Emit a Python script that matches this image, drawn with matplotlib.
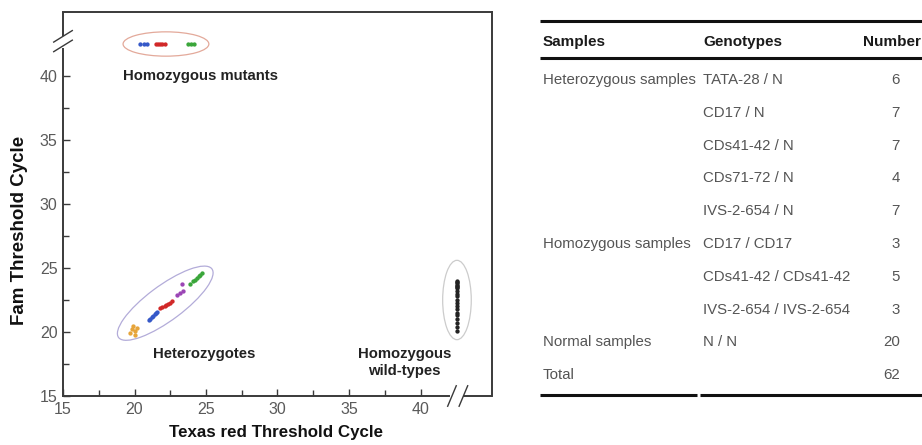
import matplotlib
matplotlib.use("Agg")
import matplotlib.pyplot as plt
import matplotlib.font_manager as fm
from matplotlib.patches import Ellipse
from matplotlib.lines import Line2D

# --- data ---
# homozygous mutants (Fam never crosses threshold -> drawn above the axis break)
mut_blue_x = [20.4, 20.65, 20.9]
mut_red_x = [21.5, 21.65, 21.8, 21.95, 22.1]
mut_green_x = [23.75, 23.95, 24.15]
mut_y = 42.5

# heterozygotes
het_orange_x = [19.7, 19.85, 20.0, 20.15, 19.9, 20.05]
het_orange_y = [19.95, 20.2, 20.05, 20.35, 20.5, 19.8]
het_blue_x = [21.0, 21.1, 21.2, 21.3, 21.4, 21.5, 21.6]
het_blue_y = [20.9, 21.05, 21.15, 21.25, 21.4, 21.5, 21.6]
het_red_x = [21.8, 21.95, 22.1, 22.2, 22.35, 22.5, 22.6]
het_red_y = [21.85, 21.95, 22.0, 22.1, 22.2, 22.3, 22.4]
het_purple_x = [23.0, 23.2, 23.4, 23.3]
het_purple_y = [22.9, 23.05, 23.2, 23.75]
het_green_x = [23.9, 24.1, 24.25, 24.35, 24.5, 24.6, 24.7]
het_green_y = [23.75, 23.95, 24.1, 24.2, 24.35, 24.45, 24.6]

# homozygous wild-types (Texas red never crosses threshold)
wt_x = 42.55
wt_y = [24.0, 23.9, 23.8, 23.7, 23.6, 23.5, 23.4, 23.2, 23.0, 22.8,
        22.5, 22.3, 22.0, 21.8, 21.5, 21.3, 21.0, 20.7, 20.4, 20.1]

x_ticks = [15, 20, 25, 30, 35, 40]
y_ticks = [15, 20, 25, 30, 35, 40]

# table on the right
tbl_header = ["Samples", "Genotypes", "Number"]
tbl_samples = ["Heterozygous samples", "", "", "", "", "Homozygous samples", "", "",
               "Normal samples", "Total"]
tbl_genotypes = ["TATA-28 / N", "CD17 / N", "CDs41-42 / N", "CDs71-72 / N", "IVS-2-654 / N",
                 "CD17 / CD17", "CDs41-42 / CDs41-42", "IVS-2-654 / IVS-2-654", "N / N", ""]
tbl_numbers = ["6", "7", "7", "4", "7", "3", "5", "3", "20", "62"]

# fonts: narrow arial look if we have it
names = {f.name for f in fm.fontManager.ttflist}
narrow = "Liberation Sans Narrow" if "Liberation Sans Narrow" in names else "Liberation Sans"
fam = [narrow, "DejaVu Sans"]

W, H = 922, 445
fig = plt.figure(figsize=(W / 100, H / 100), dpi=100)

def px(x, y):
    # pixel (top-left origin) -> figure fraction
    return x / W, 1 - y / H

ax = fig.add_axes([63 / W, 1 - 396 / H, (492 - 63) / W, (396 - 12) / H])
ax.set_xlim(15, 45)
ax.set_ylim(15, 45)

spc = "#3a3a3a"
for s in ax.spines.values():
    s.set_color(spc)
    s.set_linewidth(1.4)
# broken axes: left and bottom spines stop at the break
ax.spines["left"].set_bounds(15, 42.1)
ax.spines["bottom"].set_bounds(15, 42.0)
ax.plot([15, 15], [43.1, 45], color=spc, lw=1.4, clip_on=False, solid_capstyle="butt")
ax.plot([43.0, 45], [15, 15], color=spc, lw=1.4, clip_on=False, solid_capstyle="butt")
# break marks
for dy in (0, 0.75):
    ax.plot([14.35, 15.65], [41.9 + dy, 42.8 + dy], color=spc, lw=1.0, clip_on=False)
for dx in (0, 0.8):
    ax.plot([41.9 + dx, 42.5 + dx], [14.2, 15.8], color=spc, lw=1.0, clip_on=False)

ax.set_xticks(x_ticks)
ax.set_yticks(y_ticks)
ax.set_xticks([17.5, 22.5, 27.5, 32.5, 37.5], minor=True)
ax.set_yticks([17.5, 22.5, 27.5, 32.5, 37.5], minor=True)
ax.tick_params(which="both", direction="in", color=spc, width=1.0, top=False, right=False)
ax.tick_params(which="major", length=5, labelsize=11.5, labelcolor="#5a5a5a", pad=4)
ax.tick_params(which="minor", length=4)
for lab in ax.get_xticklabels() + ax.get_yticklabels():
    lab.set_family(fam)

ms = 2.1
ax.plot(mut_blue_x, [mut_y] * len(mut_blue_x), "o", color="#3558c8", ms=ms, clip_on=False)
ax.plot(mut_red_x, [mut_y] * len(mut_red_x), "o", color="#d12828", ms=ms, clip_on=False)
ax.plot(mut_green_x, [mut_y] * len(mut_green_x), "o", color="#3aa63a", ms=ms, clip_on=False)

ax.plot(het_orange_x, het_orange_y, "o", color="#e6a43a", ms=ms)
ax.plot(het_blue_x, het_blue_y, "o", color="#3558c8", ms=ms)
ax.plot(het_red_x, het_red_y, "o", color="#d12828", ms=ms)
ax.plot(het_purple_x, het_purple_y, "o", color="#9b45b5", ms=ms)
ax.plot(het_green_x, het_green_y, "o", color="#3aa63a", ms=ms)

ax.plot([wt_x] * len(wt_y), wt_y, "o", color="#222222", ms=ms)

ax.add_patch(Ellipse((22.2, 42.5), 6.0, 1.9, fill=False, ec="#e3a99a", lw=0.9))
ax.add_patch(Ellipse((22.15, 22.25), 8.45, 2.65, angle=40, fill=False, ec="#b3acd9", lw=0.9))
ax.add_patch(Ellipse((42.55, 22.5), 2.0, 6.2, fill=False, ec="#cccccc", lw=0.9))

lbl = dict(ha="center", va="center", fontsize=10.7, fontweight="bold", color="#222222", family=fam)
ax.text(24.6, 40.0, "Homozygous mutants", **lbl)
ax.text(24.9, 18.3, "Heterozygotes", **lbl)
ax.text(38.9, 17.6, "Homozygous\nwild-types", linespacing=1.3, **lbl)

fig.text(*px(276, 432), "Texas red Threshold Cycle", ha="center", va="center",
         fontsize=12.2, fontweight="bold", color="#111111", family=fam)
fig.text(*px(20, 230), "Fam Threshold Cycle", ha="center", va="center", rotation=90,
         fontsize=13.5, fontweight="bold", color="#111111", family=fam)

# --- table ---
rule = dict(color="#111111", lw=2.2, solid_capstyle="butt")
fig.add_artist(Line2D([540 / W, 1.0], [1 - 21 / H] * 2, **rule))
fig.add_artist(Line2D([540 / W, 1.0], [1 - 58 / H] * 2, **rule))
fig.add_artist(Line2D([540 / W, 697 / W], [1 - 395 / H] * 2, **rule))
fig.add_artist(Line2D([700 / W, 1.0], [1 - 395 / H] * 2, **rule))

hdr = dict(va="center", fontsize=11, fontweight="bold", color="#1a1a1a", family=fam)
fig.text(*px(543, 42), tbl_header[0], ha="left", **hdr)
fig.text(*px(703, 42), tbl_header[1], ha="left", **hdr)
fig.text(*px(921, 42), tbl_header[2], ha="right", **hdr)

cell = dict(va="center", fontsize=10.8, color="#555555", family=fam)
for i in range(len(tbl_numbers)):
    yy = 80 + i * 32.8
    fig.text(*px(543, yy), tbl_samples[i], ha="left", **cell)
    fig.text(*px(703, yy), tbl_genotypes[i], ha="left", **cell)
    fig.text(*px(900, yy), tbl_numbers[i], ha="right", **cell)

fig.savefig("out.png", dpi=100)
